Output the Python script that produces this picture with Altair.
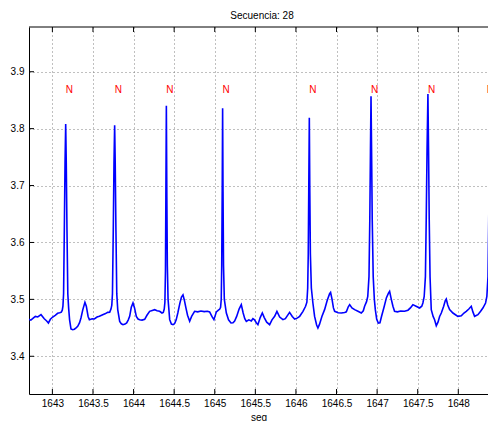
import altair as alt
import pandas as pd

# ECG trace (time in seconds, amplitude in mV)
seg = [
    1642.712, 1642.735, 1642.760, 1642.790, 1642.820, 1642.860, 1642.900, 1642.930,
    1642.951, 1642.975, 1643.004, 1643.035, 1643.065, 1643.090, 1643.110, 1643.122,
    1643.130, 1643.138, 1643.147, 1643.156, 1643.164, 1643.171, 1643.180, 1643.190,
    1643.200, 1643.212, 1643.229, 1643.250, 1643.271, 1643.292, 1643.312, 1643.335,
    1643.352, 1643.375, 1643.401, 1643.418, 1643.440, 1643.456, 1643.490, 1643.517,
    1643.550, 1643.579, 1643.620, 1643.655, 1643.681, 1643.706, 1643.722, 1643.732,
    1643.740, 1643.750, 1643.759, 1643.767, 1643.774, 1643.783, 1643.793, 1643.805,
    1643.829, 1643.850, 1643.870, 1643.895, 1643.915, 1643.935, 1643.952, 1643.972,
    1643.993, 1644.012, 1644.034, 1644.055, 1644.075, 1644.105, 1644.137, 1644.165,
    1644.198, 1644.230, 1644.260, 1644.290, 1644.321, 1644.350, 1644.366, 1644.378,
    1644.386, 1644.393, 1644.398, 1644.404, 1644.410, 1644.416, 1644.425, 1644.445,
    1644.466, 1644.486, 1644.506, 1644.525, 1644.545, 1644.570, 1644.590, 1644.609,
    1644.625, 1644.645, 1644.665, 1644.691, 1644.715, 1644.752, 1644.790, 1644.830,
    1644.870, 1644.910, 1644.937, 1644.965, 1644.990, 1645.020, 1645.045, 1645.062,
    1645.072, 1645.080, 1645.086, 1645.092, 1645.097, 1645.102, 1645.108, 1645.118,
    1645.143, 1645.170, 1645.200, 1645.225, 1645.245, 1645.270, 1645.300, 1645.327,
    1645.350, 1645.370, 1645.389, 1645.420, 1645.450, 1645.470, 1645.490, 1645.512,
    1645.532, 1645.560, 1645.586, 1645.610, 1645.640, 1645.676, 1645.705, 1645.738,
    1645.766, 1645.800, 1645.840, 1645.870, 1645.922, 1645.955, 1645.984, 1646.015,
    1646.046, 1646.087, 1646.119, 1646.135, 1646.145, 1646.152, 1646.158, 1646.165,
    1646.171, 1646.178, 1646.190, 1646.209, 1646.230, 1646.255, 1646.271, 1646.290,
    1646.320, 1646.353, 1646.385, 1646.415, 1646.427, 1646.445, 1646.462, 1646.477,
    1646.520, 1646.560, 1646.600, 1646.621, 1646.645, 1646.662, 1646.690, 1646.723,
    1646.764, 1646.805, 1646.830, 1646.846, 1646.870, 1646.885, 1646.900, 1646.910,
    1646.918, 1646.925, 1646.932, 1646.940, 1646.952, 1646.966, 1646.978, 1646.995,
    1647.015, 1647.035, 1647.055, 1647.085, 1647.115, 1647.140, 1647.154, 1647.175,
    1647.195, 1647.215, 1647.250, 1647.290, 1647.338, 1647.380, 1647.410, 1647.441,
    1647.480, 1647.524, 1647.550, 1647.564, 1647.580, 1647.595, 1647.605, 1647.615,
    1647.626, 1647.634, 1647.642, 1647.652, 1647.667, 1647.690, 1647.708, 1647.729,
    1647.750, 1647.770, 1647.791, 1647.820, 1647.840, 1647.852, 1647.870, 1647.893,
    1647.934, 1647.965, 1647.995, 1648.037, 1648.070, 1648.098, 1648.130, 1648.160,
    1648.180, 1648.201, 1648.242, 1648.275, 1648.303, 1648.336, 1648.352, 1648.366,
    1648.375, 1648.385, 1648.395,
]
volt = [
    3.4650, 3.4635, 3.4665, 3.4700, 3.4690, 3.4731, 3.4660, 3.4620,
    3.4585, 3.4650, 3.4690, 3.4720, 3.4755, 3.4765, 3.4775, 3.4810,
    3.4880, 3.5100, 3.6200, 3.7400, 3.8080, 3.7400, 3.6200, 3.5100,
    3.4850, 3.4640, 3.4480, 3.4467, 3.4475, 3.4500, 3.4526, 3.4590,
    3.4673, 3.4820, 3.4947, 3.4880, 3.4700, 3.4643, 3.4660, 3.4655,
    3.4690, 3.4702, 3.4730, 3.4750, 3.4772, 3.4775, 3.4830, 3.4900,
    3.5100, 3.6200, 3.7400, 3.8060, 3.7400, 3.6200, 3.5100, 3.4820,
    3.4614, 3.4570, 3.4555, 3.4565, 3.4585, 3.4640, 3.4702, 3.4860,
    3.4936, 3.4850, 3.4700, 3.4655, 3.4643, 3.4635, 3.4650, 3.4720,
    3.4790, 3.4805, 3.4819, 3.4800, 3.4790, 3.4760, 3.4770, 3.4830,
    3.4950, 3.5500, 3.6800, 3.8400, 3.6800, 3.5600, 3.5000, 3.4643,
    3.4565, 3.4555, 3.4575, 3.4640, 3.4760, 3.4930, 3.5040, 3.5080,
    3.4990, 3.4850, 3.4720, 3.4614, 3.4700, 3.4790, 3.4780, 3.4795,
    3.4785, 3.4790, 3.4780, 3.4700, 3.4643, 3.4780, 3.4810, 3.4830,
    3.4860, 3.5000, 3.5600, 3.6900, 3.8360, 3.6900, 3.5600, 3.5000,
    3.4760, 3.4640, 3.4585, 3.4590, 3.4620, 3.4700, 3.4830, 3.4907,
    3.4760, 3.4660, 3.4614, 3.4640, 3.4620, 3.4660, 3.4640, 3.4590,
    3.4555, 3.4680, 3.4761, 3.4680, 3.4600, 3.4555, 3.4640, 3.4702,
    3.4789, 3.4690, 3.4643, 3.4660, 3.4772, 3.4700, 3.4655, 3.4670,
    3.4702, 3.4789, 3.4878, 3.4950, 3.5200, 3.5800, 3.6900, 3.8190,
    3.6900, 3.5800, 3.5200, 3.4936, 3.4700, 3.4550, 3.4497, 3.4560,
    3.4700, 3.4819, 3.4980, 3.5100, 3.5123, 3.5000, 3.4850, 3.4790,
    3.4765, 3.4760, 3.4770, 3.4780, 3.4870, 3.4907, 3.4850, 3.4819,
    3.4790, 3.4760, 3.4800, 3.4878, 3.4960, 3.5053, 3.5400, 3.6400,
    3.7600, 3.8570, 3.7600, 3.6400, 3.5400, 3.5000, 3.4819, 3.4650,
    3.4585, 3.4590, 3.4702, 3.4860, 3.5030, 3.5110, 3.5140, 3.5000,
    3.4880, 3.4790, 3.4780, 3.4795, 3.4790, 3.4810, 3.4850, 3.4907,
    3.4880, 3.4849, 3.4880, 3.4936, 3.5050, 3.5400, 3.6400, 3.7600,
    3.8610, 3.7600, 3.6400, 3.5400, 3.4819, 3.4700, 3.4643, 3.4538,
    3.4600, 3.4700, 3.4760, 3.4880, 3.4980, 3.5007, 3.4900, 3.4819,
    3.4760, 3.4730, 3.4702, 3.4710, 3.4760, 3.4790, 3.4830, 3.4878,
    3.4780, 3.4702, 3.4730, 3.4790, 3.4848, 3.4936, 3.5053, 3.5400,
    3.6400, 3.7600, 3.8500,
]

# Beat annotations
beat_time = [1643.164, 1643.767, 1644.404, 1645.097, 1646.165, 1646.925, 1647.626, 1648.350]
beat_code = ["N", "N", "N", "N", "N", "N", "N", "N"]
beat_level = 3.868

x_ticks = [1643, 1643.5, 1644, 1644.5, 1645, 1645.5, 1646, 1646.5, 1647, 1647.5, 1648]
y_ticks = [3.4, 3.5, 3.6, 3.7, 3.8, 3.9]
x_range = [1642.712, 1648.366]
y_range = [3.3337, 3.9786]

W, H = 459, 367
FONT = "Liberation Sans"
TICK = 5

ecg = pd.DataFrame({"seg": seg, "v": volt})
beats = pd.DataFrame({"seg": beat_time, "code": beat_code,
                      "v": [beat_level] * len(beat_time)})
xt = pd.DataFrame({"seg": x_ticks})
yt = pd.DataFrame({"v": y_ticks})
frame = pd.DataFrame({"seg": [x_range[0]], "seg_end": [x_range[1]]})

xs = alt.Scale(domain=x_range, nice=False, zero=False)
ys = alt.Scale(domain=y_range, nice=False, zero=False)

trace = alt.Chart(ecg).mark_line(color="#0000ff", strokeWidth=1.6, clip=True).encode(
    x=alt.X("seg:Q", scale=xs,
            axis=alt.Axis(values=x_ticks, format=".1~f", title="seg",
                          labelPadding=4, titlePadding=4)),
    y=alt.Y("v:Q", scale=ys,
            axis=alt.Axis(values=y_ticks, format=".1f", title=None, labelPadding=5)),
)

# inward tick marks on the bottom, top and left edges
tick_bottom = alt.Chart(xt).mark_rule(color="black", strokeWidth=1).encode(
    x=alt.X("seg:Q", scale=xs), y=alt.value(H), y2=alt.value(H - TICK))
tick_top = alt.Chart(xt).mark_rule(color="black", strokeWidth=1).encode(
    x=alt.X("seg:Q", scale=xs), y=alt.value(0), y2=alt.value(TICK))
tick_left = alt.Chart(yt).mark_rule(color="black", strokeWidth=1).encode(
    y=alt.Y("v:Q", scale=ys), x=alt.value(0), x2=alt.value(TICK))

# top border of the axes box
top_edge = alt.Chart(frame).mark_rule(color="black", strokeWidth=1).encode(
    x=alt.X("seg:Q", scale=xs), x2="seg_end:Q", y=alt.value(0))

labels = alt.Chart(beats).mark_text(
    color="#ff0000", font=FONT, fontSize=10, align="left", baseline="middle"
).encode(
    x=alt.X("seg:Q", scale=xs),
    y=alt.Y("v:Q", scale=ys),
    text="code:N",
)

chart = alt.layer(trace, tick_bottom, tick_top, tick_left, top_edge, labels).properties(
    width=W, height=H,
    background="white",
    title=alt.TitleParams("Secuencia: 28", font=FONT, fontSize=10, fontWeight="normal",
                          color="black", anchor="middle", dx=3.5, dy=10, offset=8,
                          baseline="alphabetic"),
    autosize=alt.AutoSizeParams(type="none"),
    padding={"left": 29, "top": 27, "right": 0, "bottom": 27},
).configure_view(
    stroke=None
).configure_axis(
    grid=True, gridDash=[1, 3], gridColor="#808080", gridWidth=1,
    ticks=False, domainColor="black", domainWidth=1,
    labelFont=FONT, labelFontSize=10, labelColor="black",
    titleFont=FONT, titleFontSize=10, titleFontWeight="normal", titleColor="black",
)

chart.save("out.html", embed_options={"renderer": "svg", "actions": False})
